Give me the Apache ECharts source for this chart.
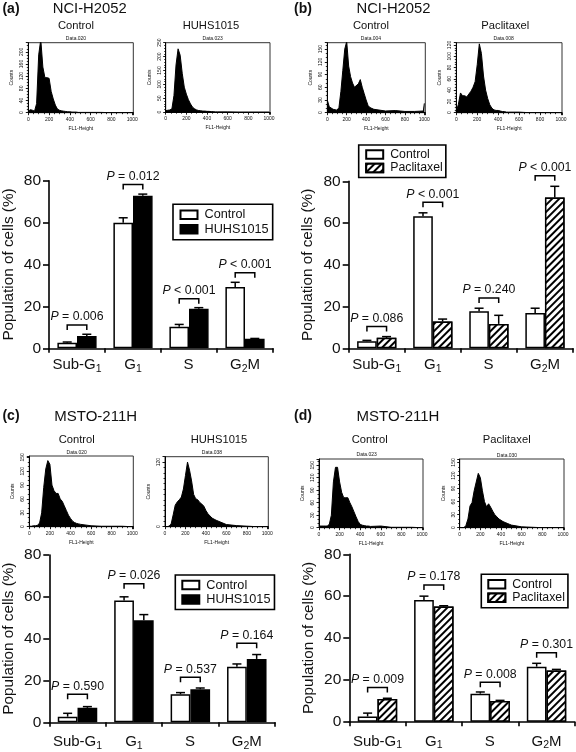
<!DOCTYPE html>
<html><head><meta charset="utf-8">
<style>html,body{margin:0;padding:0;background:#fff}#c{width:576px;height:752px;filter:blur(0.4px)}</style>
<script src="https://cdn.jsdelivr.net/npm/echarts@6/dist/echarts.min.js"></script>
</head><body><div id="c"></div>
<script>
// ---------- data ----------
const categories = ['Sub-G{s|1}', 'G{s|1}', 'S', 'G{s|2}M'];

const controlA = [2.7, 59.9, 10.3, 29.3];
const controlAErr = [3.0, 62.3, 11.4, 31.5];
const huhsA = [5.9, 72.8, 18.9, 4.5];
const huhsAErr = [6.7, 73.6, 19.4, 4.7];
const bracketA = [11.1, 78.2, 23.7, 36.1];
const pTextA = [' = 0.006', ' = 0.012', ' < 0.001', ' < 0.001'];

const controlB = [3.4, 63.3, 17.7, 16.9];
const controlBErr = [3.8, 64.9, 19.2, 19.2];
const paclitaxelB = [5.0, 12.8, 11.7, 72.2];
const paclitaxelBErr = [5.6, 14.0, 15.8, 77.6];
const bracketB = [10.5, 70.0, 24.1, 82.7];
const pTextB = [' = 0.086', ' < 0.001', ' = 0.240', ' < 0.001'];

const controlC = [2.7, 58.2, 13.4, 26.6];
const controlCErr = [4.3, 60.0, 14.2, 27.9];
const huhsC = [6.9, 48.8, 15.8, 30.3];
const huhsCErr = [7.5, 51.5, 16.4, 32.4];
const bracketC = [13.4, 66.3, 21.5, 37.8];
const pTextC = [' = 0.590', ' = 0.026', ' = 0.537', ' = 0.164'];

const controlD = [2.5, 58.2, 13.4, 26.3];
const controlDErr = [4.1, 60.0, 14.2, 27.9];
const paclitaxelD = [10.8, 55.1, 9.9, 24.5];
const paclitaxelDErr = [11.2, 55.4, 10.2, 25.0];
const bracketD = [16.4, 65.3, 18.8, 33.0];
const pTextD = [' = 0.009', ' = 0.178', ' = 0.008', ' = 0.301'];

// FL1-Height channels shared by the histograms
const channels = [0,20,40,60,80,100,120,140,160,180,200,220,240,260,280,300,320,340,360,380,400,420,440,460,480,500,600,700,800,900,990,1000];
const countsAControl = [5,10,8,5,30,190,240,150,115,115,113,70,45,25,12,8,6,5,4,3,3,2,2,2,1,1,1,1,0,0,0,0];
const countsAHuhs = [5,7,8,12,60,170,228,205,140,90,65,45,30,18,12,8,6,5,4,4,3,3,2,2,1,1,1,0,0,0,0,0];
const countsBControl = [30,14,10,8,7,6,12,50,100,150,168,110,85,70,60,60,68,78,60,45,30,17,12,10,8,6,4,5,3,3,4,22];
const countsBPaclitaxel = [2,15,35,30,30,28,33,38,45,55,85,122,105,65,40,25,14,8,5,4,4,3,2,2,1,1,1,0,0,0,0,0];
const countsCControl = [1,1,2,2,3,8,30,85,125,143,135,90,78,72,72,60,55,45,35,25,18,12,9,7,6,5,2,1,1,1,0,0];
const countsCHuhs = [0,0,1,5,22,40,46,50,55,70,95,120,105,85,60,52,50,45,42,38,30,24,20,16,14,12,4,2,1,0,0,0];
const countsDControl = [4,4,4,4,4,8,30,110,145,145,110,85,72,72,72,60,50,38,26,15,8,6,5,4,4,3,4,1,1,1,0,0];
const countsDPaclitaxel = [0,0,0,5,20,50,58,85,105,125,115,85,60,48,55,47,38,30,25,20,17,14,12,10,8,6,2,1,0,0,0,0];

// ---------- layout and styling ----------
const FONT = 'Liberation Sans, Arial, sans-serif';
const INK = '#111';
const grids = [], xAxes = [], yAxes = [], seriesList = [], titles = [], legends = [];

function text(t, x, y, size, extra) {
  titles.push({text: t, left: x, top: y, textAlign: 'center', textVerticalAlign: 'middle', padding: 0,
    textStyle: Object.assign({fontFamily: FONT, fontSize: size, fontWeight: 'normal', color: INK}, extra || {})});
}

function histogram(box, values, yMax, yStep, yMinor) {
  const g = grids.length;
  grids.push({left: box[0], top: box[1], width: box[2] - box[0], height: box[3] - box[1], show: true,
    backgroundColor: '#fff', borderColor: '#333', borderWidth: 1});
  const common = {
    type: 'value', gridIndex: g, min: 0, splitLine: {show: false}, nameLocation: 'middle',
    axisLine: {show: true, lineStyle: {color: '#000', width: 1}},
    minorTick: {show: true, length: 1.5, lineStyle: {color: '#000', width: 0.8}},
    axisTick: {show: true, length: 2.5, lineStyle: {color: '#000', width: 0.9}},
    nameTextStyle: {fontFamily: FONT, fontSize: 5, color: '#111'}
  };
  xAxes.push(Object.assign({}, common, {max: 1010, interval: 200, name: 'FL1-Height', nameGap: 13,
    minorTick: Object.assign({}, common.minorTick, {splitNumber: 4}),
    axisLabel: {fontFamily: FONT, fontSize: 5, color: '#111', margin: 4, showMaxLabel: false, formatter: v => String(v)}}));
  yAxes.push(Object.assign({}, common, {max: yMax, interval: yStep, name: 'Counts', nameGap: 14,
    minorTick: Object.assign({}, common.minorTick, {splitNumber: yMinor}),
    axisLabel: {fontFamily: FONT, fontSize: 5, color: '#111', margin: 4, rotate: 90, showMaxLabel: yMax % yStep === 0}}));
  seriesList.push({type: 'line', xAxisIndex: g, yAxisIndex: g, symbol: 'none', silent: true, clip: true,
    data: channels.map((c, i) => [c, values[i]]),
    lineStyle: {color: '#000', width: 1}, areaStyle: {color: '#000', opacity: 1}, z: 2});
}

const hatch = {symbol: 'rect', color: '#000', backgroundColor: '#fff', dashArrayX: [1, 0], dashArrayY: [1.6, 2.6], rotation: -Math.PI / 4};

function barPanel(box, first, second, firstErr, secondErr, bracket, pText, secondName, legendCfg, labelMargin) {
  const g = grids.length;
  const hatched = secondName === 'Paclitaxel';
  grids.push({left: box[0], top: box[1], width: box[2] - box[0], height: box[3] - box[1], show: false});
  xAxes.push({type: 'category', gridIndex: g, data: categories,
    axisLine: {lineStyle: {color: '#000', width: 1.6}},
    axisTick: {show: true, alignWithLabel: false, length: 4.5, lineStyle: {color: '#000', width: 1.6}},
    axisLabel: {interval: 0, margin: labelMargin, color: INK, fontFamily: FONT, fontSize: 15,
      formatter: v => v.includes('{') ? v : v + '{s|\u200a}',
      rich: {s: {fontFamily: FONT, fontSize: 10.5, color: INK, padding: [7, 0, 0, 0]}}}});
  yAxes.push({type: 'value', gridIndex: g, min: 0, max: 80, interval: 20, name: 'Population of cells (%)',
    nameLocation: 'middle', nameGap: 33, nameTextStyle: {fontFamily: FONT, fontSize: 15.3, color: INK},
    splitLine: {show: false},
    axisLine: {show: true, lineStyle: {color: '#000', width: 1.6}},
    axisTick: {show: true, length: 6, lineStyle: {color: '#000', width: 1.6}},
    axisLabel: {fontFamily: FONT, fontSize: 15.5, color: INK, margin: 8}});
  const barBase = {type: 'bar', xAxisIndex: g, yAxisIndex: g, barWidth: '35%', barGap: 0, silent: true, z: 3};
  seriesList.push(Object.assign({}, barBase, {name: 'Control', data: first,
    itemStyle: {color: '#fff', borderColor: '#000', borderWidth: 1.5}}));
  seriesList.push(Object.assign({}, barBase, {name: secondName, data: second,
    itemStyle: hatched ? {color: '#fff', borderColor: '#000', borderWidth: 1.5, decal: hatch}
                       : {color: '#000', borderColor: '#000', borderWidth: 1.5}}));
  // upper error whiskers, drawn over the paired bars
  const whiskers = [];
  firstErr.forEach((v, i) => whiskers.push([i, first[i], v, -1]));
  secondErr.forEach((v, i) => whiskers.push([i, second[i], v, 1]));
  seriesList.push({type: 'custom', xAxisIndex: g, yAxisIndex: g, silent: true, z: 4, data: whiskers, clip: false,
    renderItem(params, api) {
      const off = api.size([1, 0])[0] * 0.175 * api.value(3);
      const a = api.coord([api.value(0), api.value(1)]);
      const b = api.coord([api.value(0), api.value(2)]);
      const x = a[0] + off, style = {stroke: '#000', lineWidth: 1.5};
      return {type: 'group', children: [
        {type: 'line', shape: {x1: x, y1: a[1], x2: x, y2: b[1]}, style},
        {type: 'line', shape: {x1: x - 4.5, y1: b[1], x2: x + 4.5, y2: b[1]}, style}
      ]};
    }});
  // significance brackets with their P labels
  seriesList.push({type: 'custom', xAxisIndex: g, yAxisIndex: g, silent: true, z: 5, clip: false,
    data: bracket.map((v, i) => [i, v, pText[i]]),
    renderItem(params, api) {
      const off = api.size([1, 0])[0] * 0.175;
      const p = api.coord([api.value(0), api.value(1)]);
      return {type: 'group', children: [
        {type: 'polyline', shape: {points: [[p[0] - off, p[1] + 5], [p[0] - off, p[1]], [p[0] + off, p[1]], [p[0] + off, p[1] + 5]]},
          style: {stroke: '#000', lineWidth: 1.5, fill: null}},
        {type: 'text', x: p[0], y: p[1] - 2, style: {
          text: '{i|P}{n|' + pText[params.dataIndex] + '}', align: 'center', verticalAlign: 'bottom',
          rich: {i: {fontFamily: FONT, fontSize: 12.3, fontStyle: 'italic', fill: INK},
                 n: {fontFamily: FONT, fontSize: 12.3, fill: INK}}}}
      ]};
    }});
  legends.push({data: ['Control', secondName].map(name => ({name, icon: 'rect'})), orient: 'vertical',
    left: legendCfg.left, top: legendCfg.top,
    selectedMode: false, itemWidth: 17, itemHeight: 8.5, itemGap: 1.5, padding: legendCfg.padding,
    borderColor: '#000', borderWidth: 1.6, backgroundColor: '#fff', z: 6,
    textStyle: {fontFamily: FONT, fontSize: legendCfg.size, color: INK, lineHeight: 12, padding: [0, 0, 0, 2]}});
}

histogram([28.3, 42.7, 133.3, 112.7], countsAControl, 230, 40, 4);
histogram([165.7, 42.7, 270, 112.2], countsAHuhs, 250, 50, 5);
histogram([327.3, 42.7, 425.3, 112.7], countsBControl, 165, 30, 3);
histogram([456.3, 42.7, 562, 112.7], countsBPaclitaxel, 124, 20, 4);
histogram([29.3, 456, 133.3, 526.7], countsCControl, 153, 30, 3);
histogram([165, 456.7, 268.3, 526.7], countsCHuhs, 130, 120, 12);
histogram([319, 459, 423, 527.7], countsDControl, 165, 30, 3);
histogram([459.7, 459, 564, 527.7], countsDPaclitaxel, 158, 30, 3);

barPanel([48.7, 180.7, 273, 348.3], controlA, huhsA, controlAErr, huhsAErr, bracketA, pTextA, 'HUHS1015',
  {left: 173, top: 204.3, padding: [4, 4, 4, 6.5], size: 12.7}, 8);
barPanel([348.7, 181.3, 573, 348.3], controlB, paclitaxelB, controlBErr, paclitaxelBErr, bracketB, pTextB, 'Paclitaxel',
  {left: 358.7, top: 145, padding: [3.5, 3, 3.5, 6.5], size: 12.3}, 8);
barPanel([49.3, 555, 275, 722.3], controlC, huhsC, controlCErr, huhsCErr, bracketC, pTextC, 'HUHS1015',
  {left: 175.3, top: 575, padding: [3.5, 4, 3.5, 6], size: 12.7}, 11);
barPanel([349.3, 554.3, 574.7, 721.7], controlD, paclitaxelD, controlDErr, paclitaxelDErr, bracketD, pTextD, 'Paclitaxel',
  {left: 481.3, top: 574.3, padding: [4, 3, 4, 6], size: 12.3}, 11);

const bold = {fontWeight: 'bold'};
text('(a)', 11, 9.5, 14, bold); text('NCI-H2052', 89.7, 8.7, 14.8);
text('Control', 76, 25.7, 11.2); text('HUHS1015', 211, 25.7, 11.2);
text('Data.020', 76, 39, 5); text('Data.023', 212.7, 39, 5);
text('(b)', 303, 9.5, 14, bold); text('NCI-H2052', 393.5, 9, 14.8);
text('Control', 371, 25.7, 11.2); text('Paclitaxel', 505.3, 26, 11.2);
text('Data.004', 371, 39, 5); text('Data.008', 503.7, 39, 5);
text('(c)', 11, 415.7, 14, bold); text('MSTO-211H', 95.7, 416.7, 15);
text('Control', 76.7, 440.3, 11.2); text('HUHS1015', 219, 440.3, 11.2);
text('Data.020', 76.7, 453, 5); text('Data.038', 212, 453, 5);
text('(d)', 303, 415.7, 14, bold); text('MSTO-211H', 398, 416.7, 15);
text('Control', 369.7, 440.3, 11.2); text('Paclitaxel', 506.7, 440.3, 11.2);
text('Data.023', 366.7, 455, 5); text('Data.030', 507, 456, 5);

const chart = echarts.init(document.getElementById('c'), null, {renderer: 'canvas'});
chart.setOption({animation: false, backgroundColor: '#fff', title: titles, grid: grids,
  xAxis: xAxes, yAxis: yAxes, series: seriesList, legend: legends, tooltip: {show: false}});
</script></body></html>
